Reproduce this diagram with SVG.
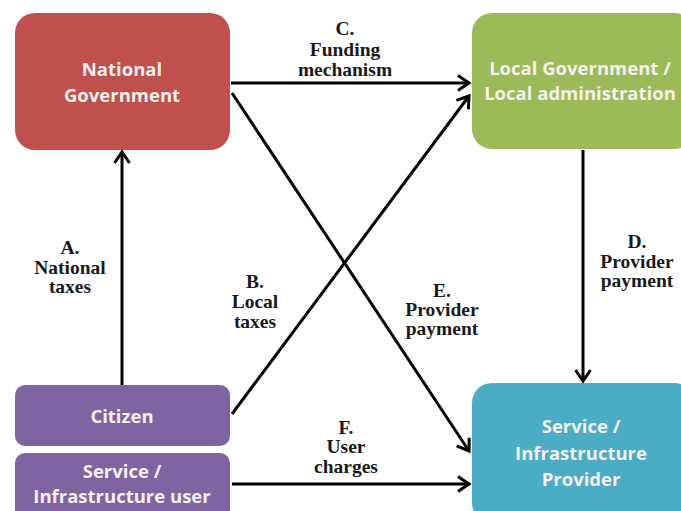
<svg xmlns="http://www.w3.org/2000/svg" width="681" height="511" viewBox="0 0 681 511">
<style>
.box-text{font-family:"Open Sans","Liberation Sans",sans-serif;font-weight:bold;font-size:18.5px;fill:#f5f1ef;text-anchor:middle}
.lbl{font-family:"Liberation Serif","Times New Roman",serif;font-weight:bold;font-size:19.5px;fill:#1a1a1a;text-anchor:middle}
.conn{stroke:#000;stroke-width:3;fill:none;marker-end:url(#arr)}
</style>
<defs>
<marker id="arr" markerUnits="userSpaceOnUse" markerWidth="20" markerHeight="20" viewBox="-14 -10 16 20" refX="0" refY="0" orient="auto">
<path d="M-11,-7.5 L0,0 L-11,7.5" fill="none" stroke="#000" stroke-width="3" stroke-linejoin="miter"/>
</marker>
</defs>
<rect width="681" height="511" fill="#fff"/>
<g id="national-government">
<rect x="15" y="13" width="215" height="137" rx="20" fill="#c0504d"/>
<text class="box-text" x="122" y="76">National</text>
<text class="box-text" x="122" y="102">Government</text>
</g>
<g id="local-government">
<rect x="472" y="13" width="222" height="136" rx="20" fill="#9bbb59"/>
<text class="box-text" x="580" y="75">Local Government /</text>
<text class="box-text" x="580" y="100">Local administration</text>
</g>
<g id="citizen">
<rect x="15" y="385" width="215" height="61" rx="10" fill="#8064a2"/>
<text class="box-text" x="122" y="423">Citizen</text>
</g>
<g id="service-user">
<rect x="15" y="453" width="215" height="70" rx="10" fill="#8064a2"/>
<text class="box-text" x="122" y="478">Service /</text>
<text class="box-text" x="122" y="503">Infrastructure user</text>
</g>
<g id="service-provider">
<rect x="472" y="383" width="222" height="140" rx="20" fill="#4bacc6"/>
<text class="box-text" x="581" y="433">Service /</text>
<text class="box-text" x="581" y="460">Infrastructure</text>
<text class="box-text" x="581" y="486">Provider</text>
</g>
<g id="connectors">
<line class="conn" x1="122" y1="385" x2="122" y2="152"/>
<line class="conn" x1="231" y1="83" x2="469" y2="83"/>
<line class="conn" x1="232" y1="93" x2="469" y2="451"/>
<line class="conn" x1="232" y1="414" x2="469" y2="96"/>
<line class="conn" x1="583" y1="150" x2="583" y2="381"/>
<line class="conn" x1="232" y1="484" x2="469" y2="484"/>
</g>
<g id="labels">
<text class="lbl" x="70" y="254">A.</text>
<text class="lbl" x="70" y="274">National</text>
<text class="lbl" x="70" y="293">taxes</text>
<text class="lbl" x="255" y="288">B.</text>
<text class="lbl" x="255" y="308">Local</text>
<text class="lbl" x="255" y="328">taxes</text>
<text class="lbl" x="345" y="35">C.</text>
<text class="lbl" x="345" y="56">Funding</text>
<text class="lbl" x="345" y="76">mechanism</text>
<text class="lbl" x="637" y="248">D.</text>
<text class="lbl" x="637" y="268">Provider</text>
<text class="lbl" x="637" y="287">payment</text>
<text class="lbl" x="442" y="297">E.</text>
<text class="lbl" x="442" y="316">Provider</text>
<text class="lbl" x="442" y="335">payment</text>
<text class="lbl" x="346" y="434">F.</text>
<text class="lbl" x="346" y="453">User</text>
<text class="lbl" x="346" y="473">charges</text>
</g>
</svg>
